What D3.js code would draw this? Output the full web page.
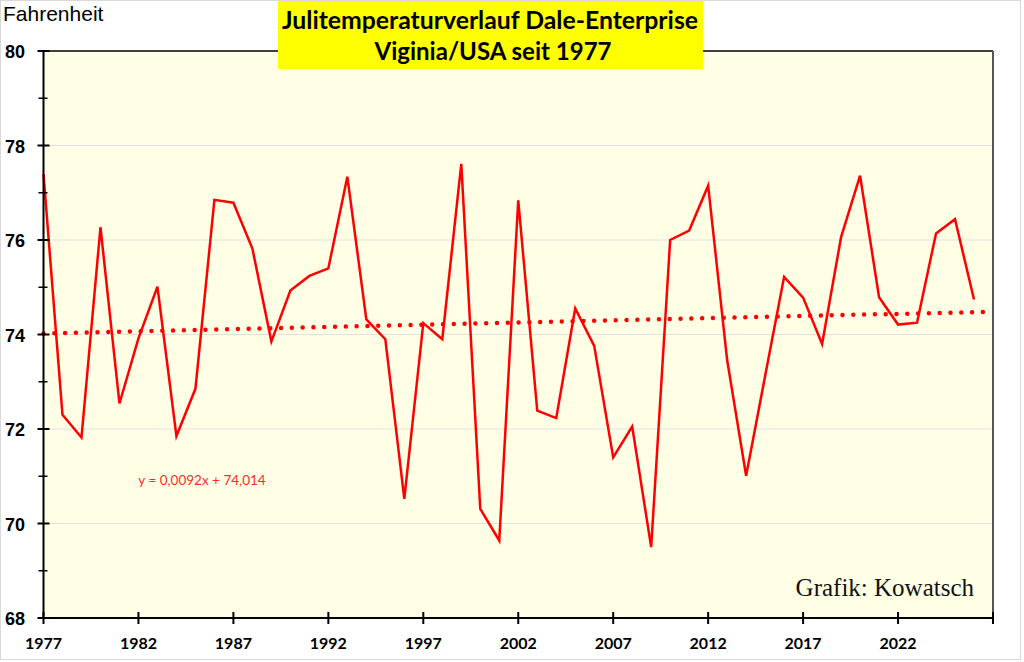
<!DOCTYPE html>
<html>
<head>
<meta charset="utf-8">
<script src="https://cdn.jsdelivr.net/npm/d3@7"></script>
<style>
  body { margin: 0; background: #fff; }
  svg { display: block; }
</style>
</head>
<body>
<script>
// Julitemperaturen Dale-Enterprise, Grad Fahrenheit
var years = d3.range(1977, 2027);
var temps = [
  77.40, 72.30, 71.82, 76.27, 72.54, 73.92, 75.01, 71.85, 72.85, 76.85,
  76.79, 75.82, 73.85, 74.93, 75.24, 75.40, 77.34, 74.32, 73.90, 70.52,
  74.24, 73.90, 77.61, 70.31, 69.64, 76.84, 72.39, 72.23, 74.55, 73.76,
  71.40, 72.05, 69.50, 76.00, 76.20, 77.15, 73.46, 71.01, 73.12, 75.22,
  74.78, 73.80, 76.06, 77.36, 74.79, 74.21, 74.25, 76.14, 76.44, 74.74
];
var xTickYears = [1977, 1982, 1987, 1992, 1997, 2002, 2007, 2012, 2017, 2022];
var yTicks = [68, 70, 72, 74, 76, 78, 80];
var yMinor = [69, 71, 73, 75, 77, 79];
// linear trend as given in the chart (x = 1, 2, 3 ...)
var trendSlope = 0.0092, trendIntercept = 74.014;
var trendLabel = "y = 0,0092x + 74,014";

var W = 1024, H = 662;
var svg = d3.select("body").append("svg")
  .attr("width", W).attr("height", H);

var x = d3.scaleLinear().domain([1977, 2027]).range([43.5, 993]);
var y = d3.scaleLinear().domain([68, 80]).range([618, 51]);

// outer frame
svg.append("rect")
  .attr("x", 0.5).attr("y", 0.5).attr("width", 1020).attr("height", 659)
  .attr("fill", "#fff").attr("stroke", "#d9d9d9");

// plot area
svg.append("rect")
  .attr("x", x(1977)).attr("y", y(80))
  .attr("width", x(2027) - x(1977)).attr("height", y(68) - y(80))
  .attr("fill", "#ffffe5");

// gridlines
svg.append("g").selectAll("line")
  .data(yTicks.filter(function(d) { return d > 68 && d < 80; }))
  .enter().append("line")
  .attr("x1", x(1977)).attr("x2", x(2027))
  .attr("y1", function(d) { return y(d); })
  .attr("y2", function(d) { return y(d); })
  .attr("stroke", "#e0e0e0").attr("stroke-width", 1);

// top and right border
svg.append("line")
  .attr("x1", x(1977)).attr("x2", x(2027))
  .attr("y1", y(80)).attr("y2", y(80))
  .attr("stroke", "#000").attr("stroke-width", 1.5);
svg.append("line")
  .attr("x1", x(2027)).attr("x2", x(2027))
  .attr("y1", y(80)).attr("y2", y(68))
  .attr("stroke", "#555").attr("stroke-width", 2);

// trend line (dotted)
svg.append("line")
  .attr("x1", x(1977)).attr("x2", x(2027))
  .attr("y1", y(trendIntercept + trendSlope * 1))
  .attr("y2", y(trendIntercept + trendSlope * 51))
  .attr("stroke", "#ff0000").attr("stroke-width", 4.5)
  .attr("stroke-linecap", "round")
  .attr("stroke-dasharray", "0 10.8");

// temperature line
var line = d3.line()
  .x(function(d, i) { return x(years[i]); })
  .y(function(d) { return y(d); });
svg.append("path")
  .datum(temps)
  .attr("d", line)
  .attr("fill", "none")
  .attr("stroke", "#ff0000")
  .attr("stroke-width", 2.5)
  .attr("stroke-linejoin", "miter");

// y axis
var yAxis = svg.append("g");
yAxis.append("line")
  .attr("x1", x(1977)).attr("x2", x(1977))
  .attr("y1", y(80)).attr("y2", y(68))
  .attr("stroke", "#000").attr("stroke-width", 2);
yAxis.selectAll(".maj").data(yTicks).enter().append("line")
  .attr("x1", x(1977) - 6).attr("x2", x(1977) + 6)
  .attr("y1", function(d) { return y(d); })
  .attr("y2", function(d) { return y(d); })
  .attr("stroke", "#000").attr("stroke-width", 2);
yAxis.selectAll(".min").data(yMinor).enter().append("line")
  .attr("x1", x(1977) - 5).attr("x2", x(1977) + 4)
  .attr("y1", function(d) { return y(d); })
  .attr("y2", function(d) { return y(d); })
  .attr("stroke", "#000").attr("stroke-width", 1.5);
yAxis.selectAll("text").data(yTicks).enter().append("text")
  .attr("x", 25)
  .attr("y", function(d) { return y(d) + 7; })
  .attr("text-anchor", "end")
  .style("font-family", "Liberation Sans, Arial, sans-serif")
  .style("font-weight", "bold")
  .style("font-size", "18px")
  .text(function(d) { return d; });

// x axis
var xAxis = svg.append("g");
xAxis.append("line")
  .attr("x1", x(1977)).attr("x2", x(2027))
  .attr("y1", y(68)).attr("y2", y(68))
  .attr("stroke", "#000").attr("stroke-width", 2);
xAxis.selectAll(".tk").data(xTickYears.concat([2027])).enter().append("line")
  .attr("x1", function(d) { return x(d); })
  .attr("x2", function(d) { return x(d); })
  .attr("y1", y(68) - 6).attr("y2", y(68) + 6)
  .attr("stroke", "#000").attr("stroke-width", 2);
xAxis.selectAll("text").data(xTickYears).enter().append("text")
  .attr("x", function(d) { return x(d); })
  .attr("y", 649)
  .attr("text-anchor", "middle")
  .style("font-family", "Lato, sans-serif")
  .style("font-weight", "bold")
  .style("font-size", "16px")
  .text(function(d) { return d; });

// labels
svg.append("text")
  .attr("x", 3).attr("y", 21)
  .style("font-family", "Liberation Sans, Arial, sans-serif")
  .style("font-size", "21px")
  .text("Fahrenheit");

svg.append("text")
  .attr("x", 202).attr("y", 485)
  .attr("text-anchor", "middle")
  .attr("fill", "#ff2a2a")
  .style("font-family", "Lato, sans-serif")
  .style("font-size", "13.5px")
  .text(trendLabel);

svg.append("text")
  .attr("x", 974).attr("y", 596)
  .attr("text-anchor", "end")
  .attr("fill", "#111")
  .style("font-family", "Liberation Serif, 'Times New Roman', serif")
  .style("font-size", "25px")
  .text("Grafik: Kowatsch");

// title box
svg.append("rect")
  .attr("x", 278).attr("y", 1).attr("width", 425).attr("height", 68)
  .attr("fill", "#ffff00");
var title = svg.append("text")
  .attr("text-anchor", "middle")
  .style("font-family", "Lato, sans-serif")
  .style("font-weight", "bold")
  .style("font-size", "24px");
title.append("tspan").attr("x", 490).attr("y", 29)
  .attr("textLength", 416).attr("lengthAdjust", "spacingAndGlyphs")
  .text("Julitemperaturverlauf Dale-Enterprise");
title.append("tspan").attr("x", 493).attr("y", 60)
  .attr("textLength", 237).attr("lengthAdjust", "spacingAndGlyphs")
  .text("Viginia/USA seit 1977");
</script>
</body>
</html>
